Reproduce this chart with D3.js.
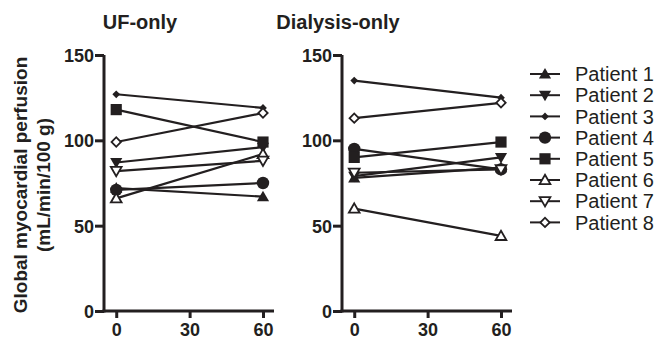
<!DOCTYPE html>
<html>
<head>
<meta charset="utf-8">
<script src="https://cdn.jsdelivr.net/npm/d3@7"></script>
<style>
  body { margin: 0; background: #fff; }
  text { font-family: "Liberation Sans", Arial, sans-serif; fill: #231f20; }
</style>
</head>
<body>
<div id="chart"></div>
<script>
const patients = ["Patient 1", "Patient 2", "Patient 3", "Patient 4", "Patient 5", "Patient 6", "Patient 7", "Patient 8"];
const timePoints = [0, 60];
const xTicks = [0, 30, 60];
const yTicks = [0, 50, 100, 150];

// perfusion at 0 and 60 min, one pair per patient
const ufOnly = [[72, 67], [87, 96], [127, 119], [71, 75], [118, 99], [66, 92], [82, 88], [99, 116]];
const dialysisOnly = [[78, 84], [79, 90], [135, 125], [95, 83], [90, 99], [60, 44], [81, 83], [113, 122]];

const markers = ["triUp", "triDown", "diamondSmall", "circle", "square", "triUpOpen", "triDownOpen", "diamondOpen"];

const width = 657, height = 344;
const ink = "#231f20";

const svg = d3.select("#chart").append("svg")
  .attr("width", width)
  .attr("height", height);

const y = d3.scaleLinear().domain([0, 150]).range([311, 55]);

function drawMarker(g, kind, cx, cy) {
  const open = kind.endsWith("Open");
  const fill = open ? "#fff" : ink;
  const sw = open ? 1.8 : 0;
  let p;
  if (kind.startsWith("triUp")) {
    p = g.append("path").attr("d", d3.symbol(d3.symbolTriangle, open ? 50 : 64)())
      .attr("transform", `translate(${cx},${cy + 1})`);
  } else if (kind.startsWith("triDown")) {
    p = g.append("path").attr("d", d3.symbol(d3.symbolTriangle, open ? 50 : 64)())
      .attr("transform", `translate(${cx},${cy - 1}) rotate(180)`);
  } else if (kind === "diamondSmall") {
    p = g.append("path").attr("d", d3.symbol(d3.symbolSquare, 30)())
      .attr("transform", `translate(${cx},${cy}) rotate(45)`);
  } else if (kind === "diamondOpen") {
    p = g.append("path").attr("d", d3.symbol(d3.symbolSquare, 44)())
      .attr("transform", `translate(${cx},${cy}) rotate(45)`);
  } else if (kind === "circle") {
    p = g.append("circle").attr("cx", cx).attr("cy", cy).attr("r", 6.2);
  } else {
    p = g.append("path").attr("d", d3.symbol(d3.symbolSquare, 125)())
      .attr("transform", `translate(${cx},${cy})`);
  }
  p.attr("fill", fill).attr("stroke", ink).attr("stroke-width", sw);
}

function panel(data, x0, title, titleX) {
  const x = d3.scaleLinear().domain([-5, 64.5]).range([x0, x0 + 170]);
  const g = svg.append("g");

  g.append("text").attr("x", titleX).attr("y", 29)
    .attr("text-anchor", "middle").attr("font-size", 20).attr("font-weight", "bold")
    .text(title);

  // axes
  const ya = g.append("g").attr("transform", `translate(${x0},0)`)
    .call(d3.axisLeft(y).tickValues(yTicks).tickSize(9).tickPadding(1));
  const xa = g.append("g").attr("transform", `translate(0,311)`)
    .call(d3.axisBottom(x).tickValues(xTicks).tickSize(7).tickPadding(3));
  [ya, xa].forEach(a => {
    a.select(".domain").attr("stroke", ink).attr("stroke-width", 3)
      .attr("d", a === ya ? "M0,55V312.5" : `M${x0 - 1.5},0H${x0 + 170}`);
    a.selectAll(".tick line").attr("stroke", ink).attr("stroke-width", 3);
    a.selectAll(".tick text").attr("font-size", 18).attr("font-weight", "bold").attr("fill", ink)
      .attr("font-family", "Liberation Sans, Arial, sans-serif");
  });
  xa.selectAll(".tick text").attr("dy", "0.85em");
  ya.selectAll(".tick text").attr("dy", "0.36em");

  const line = d3.line().x((d, i) => x(timePoints[i])).y(d => y(d));
  g.selectAll("path.series").data(data).join("path")
    .attr("class", "series")
    .attr("d", d => line(d))
    .attr("fill", "none").attr("stroke", ink).attr("stroke-width", 2.2);

  data.forEach((d, i) => {
    d.forEach((v, j) => drawMarker(g, markers[i], x(timePoints[j]), y(v)));
  });
}

panel(ufOnly, 104, "UF-only", 140);
panel(dialysisOnly, 342, "Dialysis-only", 338);

// y axis title
const yl = svg.append("text")
  .attr("transform", "translate(27,185) rotate(-90)")
  .attr("text-anchor", "middle").attr("font-size", 19).attr("font-weight", "bold");
yl.append("tspan").attr("x", 0).attr("y", 0).text("Global myocardial perfusion");
yl.append("tspan").attr("x", 0).attr("y", 23).text("(mL/min/100 g)");

// legend
const leg = svg.append("g");
patients.forEach((name, i) => {
  const ly = 74 + i * 21.2;
  leg.append("line").attr("x1", 530).attr("x2", 560).attr("y1", ly).attr("y2", ly)
    .attr("stroke", ink).attr("stroke-width", 2);
  drawMarker(leg, markers[i], 545, ly);
  leg.append("text").attr("x", 575).attr("y", ly).attr("dy", "0.36em")
    .attr("font-size", 20).text(name);
});
</script>
</body>
</html>
